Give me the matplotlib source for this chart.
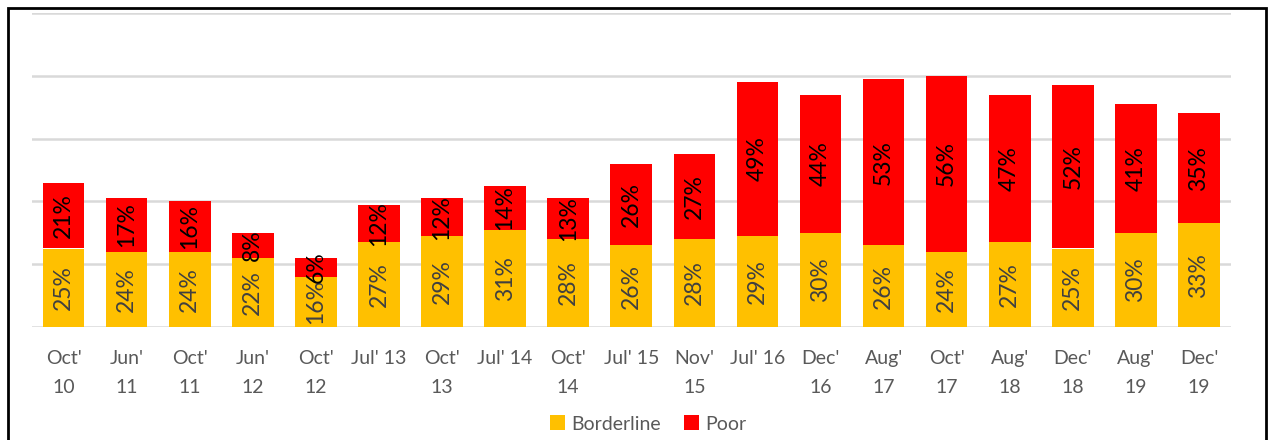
import numpy as np
from matplotlib import pyplot as plt
from matplotlib.patches import Rectangle

periods = ["Oct'\n10", "Jun'\n11", "Oct'\n11", "Jun'\n12", "Oct'\n12", "Jul' 13",
           "Oct'\n13", "Jul' 14", "Oct'\n14", "Jul' 15", "Nov'\n15", "Jul' 16",
           "Dec'\n16", "Aug'\n17", "Oct'\n17", "Aug'\n18", "Dec'\n18", "Aug'\n19",
           "Dec'\n19"]
borderline = [25, 24, 24, 22, 16, 27, 29, 31, 28, 26, 28, 29, 30, 26, 24, 27, 25, 30, 33]
poor = [21, 17, 16, 8, 6, 12, 12, 14, 13, 26, 27, 49, 44, 53, 56, 47, 52, 41, 35]

plt.rcParams['font.family'] = ['Lato', 'DejaVu Sans']

fig = plt.figure(figsize=(12.69, 4.4), dpi=100)
ax = fig.add_axes([32 / 1269, 113 / 440, (1230.5 - 32) / 1269, (327 - 13) / 440])

x = np.arange(len(periods))
b1 = ax.bar(x, borderline, width=0.66, color="#FFC000", label="Borderline", zorder=2)
b2 = ax.bar(x, poor, width=0.66, bottom=borderline, color="#FF0000", label="Poor", zorder=2)

ax.bar_label(b1, labels=[f"{v}%" for v in borderline], label_type="center",
             rotation=90, fontsize=16.5, color="#404040")
ax.bar_label(b2, labels=[f"{v}%" for v in poor], label_type="center",
             rotation=90, fontsize=16.5, color="black")

ax.set_xlim(-0.5, len(periods) - 0.5)
ax.set_ylim(0, 100)
ax.set_yticks(np.arange(0, 101, 20))
ax.yaxis.grid(True, color="#D9D9D9", linewidth=1.8, zorder=0)
ax.tick_params(axis="y", left=False, labelleft=False)
ax.tick_params(axis="x", bottom=False, pad=13, labelsize=14, labelcolor="#595959")
ax.set_xticks(x)
ax.set_xticklabels(periods, linespacing=1.85, va="top")
for s in ax.spines.values():
    s.set_visible(False)

fig.legend(handles=[b1, b2], loc="center", bbox_to_anchor=(648 / 1269, 1 - 424 / 440),
           ncol=2, frameon=False, fontsize=14, handlelength=0.8, handleheight=0.8,
           handletextpad=0.3, columnspacing=1.2, labelcolor="#595959")

# chart frame
fig.patches.append(Rectangle((8 / 1269, -0.1), (1266 - 8) / 1269, 1.1 - 8 / 440,
                             transform=fig.transFigure, fill=False,
                             edgecolor="black", linewidth=2))

fig.savefig("out.png", dpi=100)
